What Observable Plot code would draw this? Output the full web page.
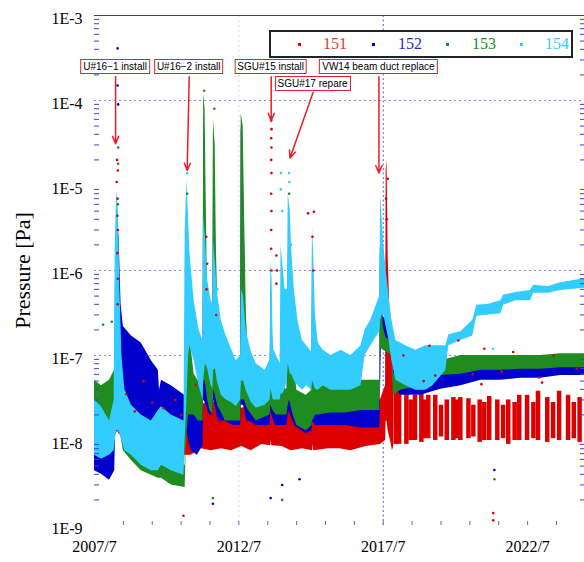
<!DOCTYPE html>
<html><head><meta charset="utf-8">
<script src="https://cdn.jsdelivr.net/npm/d3@7"></script>
<script src="https://cdn.jsdelivr.net/npm/@observablehq/plot@0.6"></script>
<style>
body{margin:0;background:#fff;}
#wrap{position:relative;width:584px;height:562px;overflow:hidden;}
.ann{position:absolute;transform:translateX(-50%);border:1.5px solid #e8202a;background:#fff;font:10px "Liberation Sans",Arial,sans-serif;line-height:13px;padding:0 2px;white-space:nowrap;color:#000;}
#legend{position:absolute;left:269px;top:30px;width:300px;height:24px;border:2px solid #222;background:#fff;font:16px "Liberation Serif","Times New Roman",serif;}
#legend .m{position:absolute;width:3px;height:3px;top:11px;}
#legend .t{position:absolute;top:2px;line-height:20px;}
</style></head><body><div id="wrap"></div>
<script>
// ---- series names / colours / ticks ----
const seriesNames = ["151", "152", "153", "154"];
const seriesColors = ["#dd0000", "#0000cc", "#1e8c1e", "#33ccff"];
const legendTextColors = ["#e83838", "#2828cc", "#228b22", "#33ccff"];
const xTickValues = [2007.5, 2012.5, 2017.5, 2022.5];
const xTickLabels = ["2007/7", "2012/7", "2017/7", "2022/7"];
const yTickValues = [1e-3, 1e-4, 1e-5, 1e-6, 1e-7, 1e-8, 1e-9];
const yTickLabels = ["1E-3", "1E-4", "1E-5", "1E-6", "1E-7", "1E-8", "1E-9"];

// ---- annotations ----
const annLabels = ["U#16\u22121 install", "U#16\u22122 install", "SGU#15 install", "SGU#17 repare", "VW14 beam duct replace"];
const annFromYear = [2008.23, 2010.78, 2013.62, 2015.07, 2017.35];
const annToYear = [2008.23, 2010.71, 2013.62, 2014.27, 2017.35];
const annBoxTopP = [3.0e-4, 3.0e-4, 3.0e-4, 1.9e-4, 3.0e-4];
const annFromP = [1.9e-4, 1.9e-4, 1.9e-4, 1.24e-4, 1.9e-4];
const annToP = [3.1e-5, 1.5e-5, 5.8e-5, 2.1e-5, 1.4e-5];

// ---- data: [year, low pressure, high pressure] envelopes ----
const p151 = [
 [2007.5,1.0e-8,2.25e-8],[2008.02,1.0e-8,3.0e-8],[2008.26,1.2e-8,3.0e-8],[2008.3,1.3e-8,2.0e-7],[2008.34,1.2e-8,5.1e-8],
 [2008.78,9e-9,3.9e-8],[2009.47,8.7e-9,3.4e-8],[2009.71,8.7e-9,3.0e-8],[2009.82,6.7e-9,1.7e-8],[2010.58,6.7e-9,1.7e-8],
 [2010.71,6.7e-9,4.4e-8],[2010.85,6.7e-9,3.0e-8],[2011.2,8e-9,2.6e-8],[2011.54,7.6e-9,3.0e-8],[2011.9,8e-9,2.4e-8],
 [2012.24,7.6e-9,2.6e-8],[2012.6,8.5e-9,2.4e-8],[2012.93,7.6e-9,2.6e-8],[2013.3,9e-9,2.4e-8],[2013.6,8.7e-9,3.0e-8],
 [2013.62,1.0e-8,3.0e-7],[2013.64,8.7e-9,2.6e-8],[2014.0,8.5e-9,2.5e-8],[2014.31,7.6e-9,2.25e-8],[2014.7,8e-9,2.6e-8],
 [2015.05,7.6e-9,3.0e-8],[2015.07,9e-9,4.0e-7],[2015.09,7.6e-9,3.0e-8],[2015.6,8e-9,2.6e-8],[2016.0,8e-9,2.8e-8],
 [2016.38,7.6e-9,2.6e-8],[2016.9,8.5e-9,2.8e-8],[2017.4,9e-9,3.0e-8],[2017.58,1.0e-8,4.4e-8],[2017.6,1.7e-8,1.5e-5],
 [2017.63,1.7e-8,2.0e-5],[2017.67,1.3e-8,1.5e-6],[2017.75,1.0e-8,2.0e-7],[2017.82,7.6e-9,8.7e-8],[2017.86,8.5e-9,4.4e-8]
];
const r151 = [
 [2017.93,9e-9,3.9e-8],[2018.05,9e-9,4.2e-8],[2018.3,9e-9,3.6e-8],[2018.45,1.0e-8,3.0e-8],[2018.6,1.0e-8,3.4e-8],
 [2018.82,9.5e-9,3.8e-8],[2018.94,1.05e-8,3.0e-8],[2019.06,1.05e-8,3.4e-8],[2019.3,1.0e-8,3.4e-8],[2019.5,1.1e-8,2.6e-8],
 [2019.7,1.0e-8,3.0e-8],[2019.93,1.0e-8,3.2e-8],[2020.05,1.05e-8,3.0e-8],[2020.17,1.0e-8,3.2e-8],[2020.45,1.05e-8,3.1e-8],
 [2020.62,1.1e-8,2.6e-8],[2020.84,9.5e-9,3.0e-8],[2021.0,1.0e-8,2.8e-8],[2021.17,1.0e-8,3.3e-8],[2021.45,1.0e-8,3.0e-8],
 [2021.65,1.05e-8,2.6e-8],[2021.83,9e-9,3.0e-8],[2022.05,1.0e-8,2.8e-8],[2022.21,1.0e-8,3.4e-8],[2022.48,1.0e-8,3.4e-8],
 [2022.7,1.05e-8,2.8e-8],[2022.86,1.0e-8,3.8e-8],[2023.18,9.5e-9,3.2e-8],[2023.38,1.05e-8,2.8e-8],[2023.59,1.0e-8,3.8e-8],
 [2023.9,1.0e-8,3.4e-8],[2024.1,1.05e-8,2.8e-8],[2024.3,9.5e-9,3.2e-8]
];
const p152 = [
 [2007.5,4.4e-9,1.0e-8],[2007.74,4.0e-9,8.7e-9],[2008.02,3.4e-9,7.6e-9],[2008.2,4.4e-9,1.0e-8],[2008.23,1.2e-8,1.5e-6],
 [2008.28,1.3e-8,4.4e-6],[2008.35,1.3e-8,2.5e-6],[2008.42,1.3e-8,4.0e-7],[2008.5,1.3e-8,2.2e-7],[2008.78,1.15e-8,1.7e-7],
 [2009.12,1.0e-8,1.4e-7],[2009.47,8.7e-9,8.7e-8],[2009.71,8.7e-9,6.7e-8],[2009.75,1.0e-8,3.9e-8],[2009.82,1.3e-8,5.1e-8],
 [2010.16,1.4e-8,4.4e-8],[2010.62,1.3e-8,3.4e-8],[2010.7,1.3e-8,2.0e-7],[2010.76,1.0e-8,5.0e-8],[2010.85,7.6e-9,3.0e-8],
 [2011.06,6.7e-9,2.6e-8],[2011.26,8.7e-9,3.0e-8],[2011.28,3.0e-8,5.0e-5],[2011.33,2.8e-8,2.0e-5],[2011.37,2.6e-8,2.0e-6],
 [2011.43,2.2e-8,1.0e-7],[2011.5,2.0e-8,3.4e-8],[2011.6,2.0e-8,3.0e-8],[2011.62,3.0e-8,4.4e-5],[2011.68,2.6e-8,6.0e-6],
 [2011.72,2.2e-8,6.0e-7],[2011.78,1.7e-8,6.0e-8],[2011.86,1.7e-8,3.4e-8],[2012.03,1.7e-8,3.0e-8],[2012.3,1.5e-8,3.0e-8],
 [2012.56,1.5e-8,3.0e-8],[2012.58,2.6e-8,5.1e-5],[2012.65,2.6e-8,1.5e-5],[2012.7,2.4e-8,2.0e-6],[2012.76,1.7e-8,1.0e-7],
 [2012.86,1.7e-8,3.0e-8],[2013.1,1.5e-8,2.6e-8],[2013.58,1.5e-8,2.6e-8],[2013.61,2.25e-8,7.6e-7],[2013.65,2.0e-8,3.0e-7],
 [2013.7,1.7e-8,5.0e-8],[2013.78,1.5e-8,3.0e-8],[2014.17,1.5e-8,3.0e-8],[2014.22,2.25e-8,5.8e-7],[2014.28,2.0e-8,3.0e-7],
 [2014.34,1.8e-8,6.0e-8],[2014.42,1.5e-8,3.0e-8],[2014.83,1.2e-8,2.0e-8],[2015.03,1.3e-8,2.25e-8],[2015.05,1.7e-8,2.25e-6],
 [2015.1,1.6e-8,5.0e-7],[2015.15,1.5e-8,3.0e-8],[2015.69,1.5e-8,2.25e-8],[2016.21,1.5e-8,2.25e-8],[2016.73,1.4e-8,2.6e-8],
 [2017.38,1.4e-8,3.0e-8],[2017.4,3.0e-8,2.0e-6],[2017.44,1.7e-7,8.0e-7],[2017.5,1.7e-7,2.8e-7],[2017.8,1.5e-7,2.4e-7],
 [2017.85,4.4e-8,8.7e-8],[2018.11,3.4e-8,7.6e-8],[2018.8,3.4e-8,6.7e-8],[2019.49,4.0e-8,6.7e-8],[2020.19,4.4e-8,7.2e-8],
 [2020.88,5.1e-8,7.6e-8],[2021.57,5.1e-8,7.6e-8],[2022.26,5.4e-8,7.6e-8],[2022.95,5.4e-8,8.1e-8],[2023.64,5.8e-8,8.1e-8],
 [2024.47,5.8e-8,8.7e-8]
];
const p153 = [
 [2007.5,1.0e-8,5.1e-8],[2007.74,1.3e-8,4.4e-8],[2008.02,1.15e-8,5.1e-8],[2008.22,1.3e-8,7.0e-8],[2008.25,1.5e-8,1.5e-6],
 [2008.32,1.5e-8,1.0e-6],[2008.38,1.3e-8,1.5e-7],[2008.5,7.6e-9,3.0e-8],[2008.78,5.8e-9,1.3e-8],[2009.12,4.4e-9,7.6e-9],
 [2009.47,3.9e-9,6.7e-9],[2009.71,3.6e-9,6.7e-9],[2009.82,3.6e-9,5.8e-9],[2010.16,3.0e-9,5.5e-9],[2010.64,2.8e-9,5.1e-9],
 [2010.67,7.0e-9,5.0e-7],[2010.71,1.3e-8,3.0e-6],[2010.76,2.0e-8,6.0e-7],[2010.82,2.0e-8,1.5e-7],[2010.95,2.0e-8,6.0e-8],
 [2011.1,1.7e-8,5.0e-8],[2011.26,1.7e-8,4.4e-8],[2011.28,5.0e-8,1.2e-4],[2011.33,5.0e-8,8.0e-5],[2011.37,4.0e-8,6.0e-6],
 [2011.42,3.0e-8,4.0e-7],[2011.5,2.25e-8,1.0e-7],[2011.6,2.0e-8,5.0e-8],[2011.62,3.9e-8,6.0e-5],[2011.68,3.5e-8,3.0e-5],
 [2011.72,3.0e-8,2.0e-6],[2011.78,2.5e-8,2.5e-7],[2011.88,2.2e-8,8.0e-8],[2012.03,1.7e-8,4.4e-8],[2012.3,1.7e-8,3.9e-8],
 [2012.56,1.7e-8,3.4e-8],[2012.58,3.0e-8,7.0e-5],[2012.65,3.0e-8,5.0e-5],[2012.7,3.0e-8,4.0e-6],[2012.76,2.5e-8,3.0e-7],
 [2012.86,2.2e-8,6.0e-8],[2013.1,1.7e-8,3.9e-8],[2013.58,2.0e-8,4.0e-8],[2013.61,2.6e-8,7.6e-7],[2013.65,2.4e-8,4.0e-7],
 [2013.7,2.2e-8,6.0e-8],[2013.8,2.0e-8,4.4e-8],[2014.17,2.0e-8,4.0e-8],[2014.2,2.5e-8,1.0e-6],[2014.25,3.0e-8,3.9e-6],
 [2014.3,2.6e-8,8.0e-7],[2014.38,2.0e-8,1.0e-7],[2014.51,1.5e-8,3.9e-8],[2014.83,1.3e-8,3.4e-8],[2015.03,1.5e-8,3.9e-8],
 [2015.05,1.7e-8,4.4e-7],[2015.1,1.8e-8,2.0e-7],[2015.15,2.0e-8,6.0e-8],[2015.25,2.0e-8,4.4e-8],[2015.69,2.1e-8,4.4e-8],
 [2016.21,2.1e-8,4.4e-8],[2016.73,2.25e-8,5.1e-8],[2017.38,2.25e-8,5.1e-8],[2017.4,1.2e-7,1.7e-6],[2017.44,1.2e-7,6.0e-7],
 [2017.5,1.15e-7,2.2e-7],[2017.6,1.1e-7,1.6e-7],[2017.8,1.0e-7,1.4e-7],[2017.85,3.4e-8,6.0e-8],[2018.11,3.9e-8,7.6e-8],
 [2018.8,4.4e-8,7.6e-8],[2019.49,5.8e-8,8.7e-8],[2020.19,6.0e-8,1.0e-7],[2020.88,6.7e-8,1.0e-7],[2021.57,6.7e-8,1.0e-7],
 [2022.26,6.9e-8,1.0e-7],[2022.95,6.9e-8,1.0e-7],[2023.64,7.2e-8,1.05e-7],[2024.47,7.2e-8,1.05e-7]
];
const p154 = [
 [2007.5,6.7e-9,3.0e-8],[2007.74,6.0e-9,2.5e-8],[2008.02,6.7e-9,1.7e-8],[2008.18,7.6e-9,3.0e-8],[2008.22,1.0e-8,2.0e-6],
 [2008.27,1.3e-8,8.7e-6],[2008.33,1.3e-8,5.0e-6],[2008.38,1.2e-8,6.0e-7],[2008.45,1.0e-8,1.0e-7],[2008.55,7.6e-9,4.0e-8],
 [2008.78,6.7e-9,2.6e-8],[2009.12,5.1e-9,2.0e-8],[2009.47,4.4e-9,1.7e-8],[2009.71,4.4e-9,2.25e-8],[2009.82,5.1e-9,2.5e-8],
 [2010.16,4.4e-9,2.0e-8],[2010.6,3.9e-9,1.7e-8],[2010.64,1.0e-8,3.0e-6],[2010.7,3.0e-8,1.15e-5],[2010.76,1.0e-7,4.0e-6],
 [2010.8,1.3e-7,1.7e-6],[2010.95,8.7e-8,4.4e-7],[2011.12,4.4e-8,2.0e-7],[2011.26,3.0e-8,1.5e-7],[2011.28,5.0e-8,4.4e-6],
 [2011.34,8.0e-8,2.5e-6],[2011.42,7.0e-8,7.6e-7],[2011.54,4.4e-8,4.4e-7],[2011.6,4.0e-8,4.0e-7],[2011.62,6.7e-8,2.25e-6],
 [2011.69,7.0e-8,1.2e-6],[2011.75,5.0e-8,5.8e-7],[2011.89,3.4e-8,2.6e-7],[2012.06,3.0e-8,1.7e-7],[2012.24,2.8e-8,1.2e-7],
 [2012.41,2.5e-8,8.7e-8],[2012.56,3.0e-8,1.0e-7],[2012.59,5.0e-8,6.0e-7],[2012.66,5.0e-8,5.0e-7],[2012.75,3.9e-8,2.0e-7],
 [2012.93,2.8e-8,1.1e-7],[2013.1,2.4e-8,8.0e-8],[2013.41,2.6e-8,6.7e-8],[2013.58,3.0e-8,9.0e-8],[2013.61,4.0e-8,1.3e-6],
 [2013.65,3.5e-8,8.0e-7],[2013.69,3.0e-8,1.2e-7],[2013.93,3.0e-8,8.0e-8],[2013.96,3.5e-8,2.0e-6],[2014.02,3.5e-8,1.2e-6],
 [2014.1,4.0e-8,6.0e-7],[2014.18,5.0e-8,6.0e-7],[2014.21,8.0e-8,8.0e-6],[2014.28,6.0e-8,5.0e-6],[2014.33,6.0e-8,1.7e-6],
 [2014.42,5.0e-8,6.0e-7],[2014.55,4.4e-8,2.5e-7],[2014.7,3.9e-8,1.5e-7],[2014.85,4.4e-8,1.3e-7],[2015.02,3.9e-8,1.1e-7],
 [2015.05,5.0e-8,3.2e-6],[2015.1,4.5e-8,1.2e-6],[2015.15,4.0e-8,3.0e-7],[2015.25,3.9e-8,1.4e-7],[2015.42,4.4e-8,1.15e-7],
 [2015.69,3.9e-8,1.0e-7],[2016.04,3.9e-8,1.15e-7],[2016.38,3.9e-8,1.0e-7],[2016.73,4.4e-8,1.3e-7],[2016.87,1.0e-7,2.0e-7],
 [2017.07,1.3e-7,2.6e-7],[2017.38,1.9e-7,5.0e-7],[2017.41,2.6e-7,7.6e-6],[2017.46,3.0e-7,4.0e-6],[2017.52,3.0e-7,2.0e-6],
 [2017.6,2.2e-7,1.0e-6],[2017.7,1.5e-7,5.0e-7],[2017.8,8.7e-8,2.6e-7],[2017.94,5.1e-8,1.5e-7],[2018.28,4.4e-8,1.3e-7],
 [2018.63,3.9e-8,1.15e-7],[2018.98,3.9e-8,1.3e-7],[2019.22,4.4e-8,1.3e-7],[2019.67,6.7e-8,1.3e-7],[2019.77,1.3e-7,1.75e-7],
 [2020.19,1.5e-7,1.9e-7],[2020.6,1.7e-7,2.6e-7],[2020.74,2.9e-7,3.9e-7],[2021.15,3.0e-7,4.0e-7],[2021.57,3.1e-7,4.4e-7],
 [2021.67,3.9e-7,5.1e-7],[2022.09,4.4e-7,5.5e-7],[2022.6,4.4e-7,5.8e-7],[2022.71,5.4e-7,6.7e-7],[2023.23,5.4e-7,6.5e-7],
 [2023.64,5.8e-7,7.2e-7],[2024.47,6.2e-7,8.0e-7]
];
// ---- isolated readings: [year, pressure] ----
const d151 = [
 [2008.28,2.0e-5],[2008.31,1.5e-5],[2008.27,1.1e-5],[2008.3,7e-6],[2008.29,4.4e-6],[2008.31,3e-6],[2008.29,1.6e-6],[2008.31,8e-7],[2008.3,4e-7],
 [2013.62,5.8e-5],[2013.63,4.6e-5],[2013.62,3.6e-5],[2013.63,2.8e-5],[2013.62,2.0e-5],[2013.63,1.4e-5],[2013.62,8e-6],
 [2013.63,5e-6],[2013.62,3e-6],[2013.62,1.8e-6],[2013.63,1.0e-6],[2013.8,1.5e-6],[2013.82,1.0e-6],[2013.8,7e-7],
 [2014.9,4.7e-6],[2015.1,4.9e-6],[2015.05,2.5e-6],[2015.08,1.0e-6],[2017.66,1.2e-5],[2017.6,7e-6],[2017.62,4e-6],
 [2011.37,2.5e-6],[2011.4,1.2e-6],[2011.38,6e-7],[2011.72,3e-7],
 [2008.6,3.5e-8],[2008.9,2.2e-8],[2009.2,5e-8],[2009.5,2.8e-8],[2009.9,2.4e-8],[2010.3,3.0e-8],[2010.5,2.0e-8],[2011.0,4.5e-8],
 [2010.58,1.3e-9],[2021.31,1.4e-9],[2021.31,1.15e-9],
 [2018.2,1.0e-7],[2019.1,1.3e-7],[2019.3,5.8e-8],[2020.1,1.5e-7],[2020.6,6.0e-8],[2021.0,1.2e-7],[2021.6,6.5e-8],
 [2022.0,1.1e-7],[2022.9,5.5e-8],[2023.4,1.0e-7],[2024.2,7e-8],[2018.9,5e-8],[2020.9,4.6e-8],[2023.0,4.8e-8]
];
const d152 = [[2008.3,4.1e-4],[2008.3,1.5e-4],[2008.32,9e-5],[2011.6,1.8e-9],[2014.6,3.5e-9],[2021.35,4.5e-9],[2013.6,2.1e-9],[2014.0,3e-9]];
const d153 = [[2011.6,2.1e-9],[2014.0,2.0e-9],[2021.35,3.5e-9],[2008.32,1.8e-5],[2008.32,2.8e-5],[2008.31,6e-6],[2011.3,1.3e-4],[2011.65,8e-5],[2008.1,2.5e-7],[2007.8,2.3e-7],[2010.71,8e-6],[2014.24,8e-6]];
const d154 = [[2013.95,9e-6],[2013.96,1.4e-5],[2014.0,5e-6],[2014.3,2e-6],[2011.75,6e-7],[2011.8,3e-7],[2010.71,1.4e-5],[2021.3,1.2e-7],[2014.24,1.4e-5],[2014.25,1.1e-5]];

// ---- build chart ----
const minorY = d3.range(-9, -3).flatMap(k => d3.range(2, 10).map(m => m * Math.pow(10, k)));
const minorX = d3.range(2008.5, 2024.6, 1);
const env = [p151, p152, p153, p154];
const dotsAll = [d151, d152, d153, d154];
const serif = "'Liberation Serif','Times New Roman',serif";

const bandMarks = [];
[0, 1, 2, 3].forEach(i => {
  bandMarks.push(Plot.areaY(env[i], {x: d => d[0], y1: d => d[1], y2: d => d[2], fill: seriesColors[i], curve: "linear"}));
  if (i === 0) bandMarks.push(Plot.ruleX(r151, {x: d => d[0], y1: d => d[1], y2: d => d[2], stroke: seriesColors[0], strokeWidth: 4.5}));
});
const dotMarks = [0, 1, 2, 3].map(i => Plot.dot(dotsAll[i], {x: d => d[0], y: d => d[1], r: 1.3, fill: seriesColors[i], stroke: "none"}));

const plot = Plot.plot({
  width: 584, height: 562,
  marginTop: 15, marginBottom: 37, marginLeft: 94, marginRight: 0,
  x: {domain: [2007.5, 2024.47]},
  y: {type: "log", domain: [1e-9, 1e-3]},
  style: {fontFamily: serif, fontSize: "16px", color: "#000", background: "#fff"},
  marks: [
    Plot.ruleY([1e-4, 1e-6, 1e-7], {stroke: "#8a8ae6", strokeDasharray: "2,3"}),
    Plot.ruleX([2012.5], {stroke: "#d8d8f0", strokeDasharray: "2,3"}),
    Plot.ruleX([2017.5], {stroke: "#5a5ad8", strokeDasharray: "2,2.5"}),
    Plot.ruleY([1e-3], {stroke: "#3030d0", strokeWidth: 1.2}),
    ...bandMarks,
    ...dotMarks,
    Plot.axisY({ticks: minorY, anchor: "left", tickSize: -5, tickFormat: () => "", stroke: "#4040cc"}),
    Plot.axisY({ticks: minorY, anchor: "right", tickSize: -5, tickFormat: () => "", stroke: "#4040cc"}),
    Plot.axisX({ticks: minorX, anchor: "bottom", tickSize: -4, tickFormat: () => "", stroke: "#6060dd"}),
    Plot.axisY({ticks: yTickValues, anchor: "left", tickSize: 0, tickPadding: 12, dy: 3,
      tickFormat: d => yTickLabels[yTickValues.indexOf(d)], fontSize: 16, fill: "#000"}),
    Plot.axisX({ticks: xTickValues, anchor: "bottom", tickSize: 0, tickPadding: 15,
      tickFormat: d => xTickLabels[xTickValues.indexOf(d)], fontSize: 16, fill: "#000"}),
    Plot.text(["Pressure [Pa]"], {frameAnchor: "left", rotate: -90, dx: -72, textAnchor: "middle", fontSize: 22, fill: "#000"}),
    Plot.arrow(annLabels, {x1: (d, i) => annFromYear[i], y1: (d, i) => annFromP[i], x2: (d, i) => annToYear[i], y2: (d, i) => annToP[i],
      stroke: "#ee1c24", strokeWidth: 1.5, headLength: 8, headAngle: 45})
  ]
});

const wrap = document.getElementById("wrap");
wrap.appendChild(plot);
const xs = plot.scale("x"), ys = plot.scale("y");
annLabels.forEach((t, i) => {
  const div = document.createElement("div");
  div.className = "ann";
  div.textContent = t;
  div.style.left = xs.apply(annFromYear[i]) + "px";
  div.style.top = ys.apply(annBoxTopP[i]) + "px";
  wrap.appendChild(div);
});
const lg = document.createElement("div");
lg.id = "legend";
const mOff = [27, 101, 175, 249], tOff = [52, 127, 201, 274];
seriesNames.forEach((n, i) => {
  const m = document.createElement("div"); m.className = "m"; m.style.left = mOff[i] + "px"; m.style.background = seriesColors[i]; lg.appendChild(m);
  const s = document.createElement("div"); s.className = "t"; s.style.left = tOff[i] + "px"; s.style.color = legendTextColors[i]; s.textContent = n; lg.appendChild(s);
});
wrap.appendChild(lg);
</script></body></html>
